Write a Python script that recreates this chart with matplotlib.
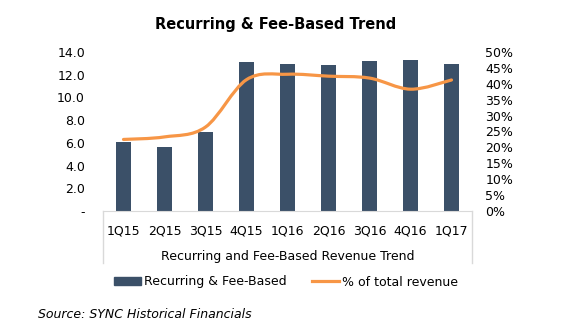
import numpy as np
import matplotlib
matplotlib.use('Agg')
import matplotlib.pyplot as plt
from matplotlib.path import Path
from matplotlib.patches import PathPatch
from matplotlib.lines import Line2D
from matplotlib.patches import Patch

quarters = ['1Q15', '2Q15', '3Q15', '4Q15', '1Q16', '2Q16', '3Q16', '4Q16', '1Q17']
recurring = [6.1, 5.6, 7.0, 13.1, 12.9, 12.85, 13.2, 13.3, 12.9]
pct_total = [22.5, 23.3, 26.4, 41.3, 43.0, 42.4, 41.8, 38.3, 41.2]

bar_color = '#3B5068'
line_color = '#F79646'
grid_gray = '#D9D9D9'

plt.rcParams['font.family'] = 'DejaVu Sans'

fig = plt.figure(figsize=(5.69, 3.24), dpi=100)
ax = fig.add_axes([103 / 569, 1 - 211 / 324, 369 / 569, 159 / 324])
ax2 = ax.twinx()

x = np.arange(len(quarters))
ax.bar(x, recurring, width=0.37, color=bar_color)
ax.set_xlim(-0.5, len(quarters) - 0.5)
ax.set_ylim(0, 14)
ax.set_yticks(np.arange(0, 15, 2))
ax.set_yticklabels(['-'] + ['%.1f' % v for v in np.arange(2, 15, 2)])
ax.set_xticks(x)
ax.set_xticklabels(quarters)
ax.tick_params(axis='both', length=0, labelsize=9)
ax.tick_params(axis='y', pad=13)
ax.tick_params(axis='x', pad=10)
ax.set_xlabel('Recurring and Fee-Based Revenue Trend', fontsize=9, labelpad=9)

for side in ['top', 'left', 'right']:
    ax.spines[side].set_visible(False)
    ax2.spines[side].set_visible(False)
ax2.spines['bottom'].set_visible(False)
ax.spines['bottom'].set_color(grid_gray)
for xs in (0, 1):
    ax.plot([xs, xs], [0, -0.33], transform=ax.transAxes, clip_on=False,
            color=grid_gray, lw=1)

# smoothed line (Excel-style), Catmull-Rom -> cubic bezier
pts = np.column_stack([x, pct_total])
verts = [pts[0]]
codes = [Path.MOVETO]
for i in range(len(pts) - 1):
    p0 = pts[max(i - 1, 0)]
    p1 = pts[i]
    p2 = pts[i + 1]
    p3 = pts[min(i + 2, len(pts) - 1)]
    verts += [p1 + (p2 - p0) / 6, p2 - (p3 - p1) / 6, p2]
    codes += [Path.CURVE4] * 3
ax2.add_patch(PathPatch(Path(verts, codes), fill=False, edgecolor=line_color,
                        lw=2.3, capstyle='round'))
ax2.set_ylim(0, 50)
ax2.set_yticks(np.arange(0, 51, 5))
ax2.set_yticklabels(['%d%%' % v for v in range(0, 51, 5)])
ax2.tick_params(axis='y', length=0, labelsize=9, pad=9.5)

fig.text(0.484, 1 - 24 / 324, 'Recurring & Fee-Based Trend', ha='center',
         va='center', fontsize=10.5, fontweight='bold')

handles = [Patch(color=bar_color), Line2D([], [], color=line_color, lw=2.3)]
fig.legend(handles, ['Recurring & Fee-Based', '% of total revenue'],
           loc='center', bbox_to_anchor=(286 / 569, 1 - 282 / 324), ncol=2,
           frameon=False, fontsize=9, handlelength=2.2, handletextpad=0.25,
           columnspacing=2.0, handleheight=0.6)

fig.text(38 / 569, 1 - 315 / 324, 'Source: SYNC Historical Financials',
         ha='left', va='center', fontsize=9, style='italic')

fig.savefig('out.png', dpi=100)
